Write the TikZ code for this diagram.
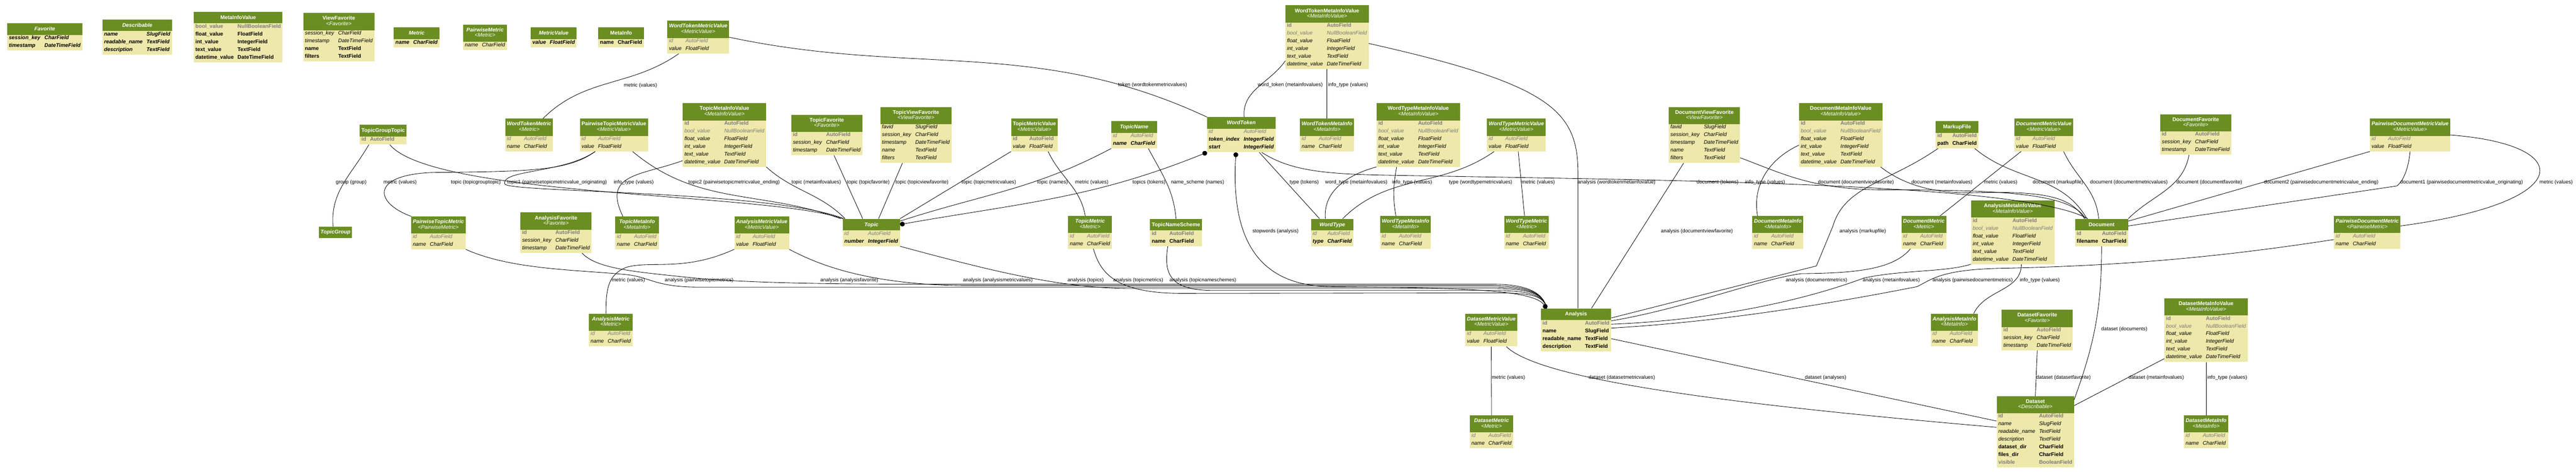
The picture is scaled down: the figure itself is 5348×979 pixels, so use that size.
\documentclass[tikz,border=0pt]{standalone}
\usepackage{fontspec}
\setmainfont{Liberation Sans}
\usetikzlibrary{shapes.multipart,arrows.meta}
\definecolor{headgreen}{RGB}{107,142,35}
\definecolor{bodykhaki}{RGB}{238,232,170}
\definecolor{fieldgray}{HTML}{7B7B7B}
\renewcommand{\arraystretch}{0}
% header cells
\newcommand\hd[1]{\textcolor{white}{\rule[-8.75pt]{0pt}{24pt}\textbf{#1}}}
\newcommand\hdi[1]{\textcolor{white}{\rule[-8.75pt]{0pt}{24pt}\textbf{\textit{#1}}}}
\newcommand\hds[2]{\textcolor{white}{\begin{tabular}{@{}c@{}}\rule[-3.3pt]{0pt}{17.6pt}\textbf{#1}\\\rule[-9.7pt]{0pt}{17.4pt}\textit{#2}\end{tabular}}}
\newcommand\hdsi[2]{\textcolor{white}{\begin{tabular}{@{}c@{}}\rule[-3.3pt]{0pt}{17.6pt}\textbf{\textit{#1}}\\\rule[-9.7pt]{0pt}{17.4pt}\textit{#2}\end{tabular}}}
% field rows
\newcommand\rows[1]{\begin{tabular}{@{}l@{\hspace{8pt}}l@{}}#1\end{tabular}}
\newcommand\rb[2]{\rule[-6.8pt]{0pt}{16pt}\textbf{#1}&\textbf{#2}\\}
\newcommand\rbi[2]{\rule[-6.8pt]{0pt}{16pt}\textbf{\textit{#1}}&\textbf{\textit{#2}}\\}
\newcommand\ri[2]{\rule[-6.8pt]{0pt}{16pt}\textit{#1}&\textit{#2}\\}
\newcommand\gb[2]{\rule[-6.8pt]{0pt}{16pt}\textcolor{fieldgray}{\textbf{#1}}&\textcolor{fieldgray}{\textbf{#2}}\\}
\newcommand\gi[2]{\rule[-6.8pt]{0pt}{16pt}\textcolor{fieldgray}{\textit{#1}}&\textcolor{fieldgray}{\textit{#2}}\\}
\newcommand\mivrows{\gb{id}{AutoField}\gi{bool\_value}{NullBooleanField}\ri{float\_value}{FloatField}\ri{int\_value}{IntegerField}\ri{text\_value}{TextField}\ri{datetime\_value}{DateTimeField}}
\newcommand\favrows{\gb{id}{AutoField}\ri{session\_key}{CharField}\ri{timestamp}{DateTimeField}}
\newcommand\vfavrows{\ri{favid}{SlugField}\ri{session\_key}{CharField}\ri{timestamp}{DateTimeField}\ri{name}{TextField}\ri{filters}{TextField}}
\newcommand\metrows{\gi{id}{AutoField}\ri{name}{CharField}}
\newcommand\valrows{\gi{id}{AutoField}\ri{value}{FloatField}}

\begin{document}
\begin{tikzpicture}[x=1pt,y=-1pt,
  model/.style={rectangle split, rectangle split parts=2,
    rectangle split part fill={headgreen,bodykhaki},
    rectangle split part align={center,left},
    inner xsep=3.5pt, inner ysep=0pt, anchor=north,
    font=\fontsize{11}{11}\selectfont},
  modelhead/.style={fill=headgreen, inner xsep=3.5pt, inner ysep=0pt,
    anchor=north, font=\fontsize{11}{11}\selectfont},
  fk/.style={draw, line width=0.9pt},
  mm/.style={fk, {Circle[length=10pt]}-{Circle[length=10pt]}},
  lbl/.style={anchor=west, inner sep=0pt, font=\fontsize{10.5}{10.5}\selectfont}]
\useasboundingbox (0,0) rectangle (5348,979);

% abstract bases
\node[model] (favorite) at (93,48) {\hdi{Favorite}\nodepart{two}\rows{\rbi{session\_key}{CharField}\rbi{timestamp}{DateTimeField}}};
\node[model] (describable) at (285,40) {\hdi{Describable}\nodepart{two}\rows{\rbi{name}{SlugField}\rbi{readable\_name}{TextField}\rbi{description}{TextField}}};
\node[model] (miv) at (494.5,24) {\hd{MetaInfoValue}\nodepart{two}\rows{\gb{bool\_value}{NullBooleanField}\rb{float\_value}{FloatField}\rb{int\_value}{IntegerField}\rb{text\_value}{TextField}\rb{datetime\_value}{DateTimeField}}};
\node[model] (vfav) at (703.5,27) {\hds{ViewFavorite}{<Favorite>}\nodepart{two}\rows{\ri{session\_key}{CharField}\ri{timestamp}{DateTimeField}\rb{name}{TextField}\rb{filters}{TextField}}};
\node[model] (metric) at (865,57) {\hdi{Metric}\nodepart{two}\rows{\rbi{name}{CharField}}};
\node[model] (pmetric) at (1007,51) {\hdsi{PairwiseMetric}{<Metric>}\nodepart{two}\rows{\ri{name}{CharField}}};
\node[model] (mvalue) at (1149.5,57) {\hdi{MetricValue}\nodepart{two}\rows{\rbi{value}{FloatField}}};
\node[model] (metainfo) at (1289.5,57) {\hd{MetaInfo}\nodepart{two}\rows{\rb{name}{CharField}}};

% topic side
\node[model] (wtmv) at (1449.5,43) {\hdsi{WordTokenMetricValue}{<MetricValue>}\nodepart{two}\rows{\valrows}};
\node[model] (tgt) at (795.5,259) {\hd{TopicGroupTopic}\nodepart{two}\rows{\gb{id}{AutoField}}};
\node[modelhead] (tgroup) at (696.5,470) {\hdi{TopicGroup}};
\node[model] (wtm) at (1098.5,246) {\hdsi{WordTokenMetric}{<Metric>}\nodepart{two}\rows{\metrows}};
\node[model] (ptmv) at (1274.5,246) {\hds{PairwiseTopicMetricValue}{<MetricValue>}\nodepart{two}\rows{\valrows}};
\node[model] (tmiv) at (1504,214) {\hds{TopicMetaInfoValue}{<MetaInfoValue>}\nodepart{two}\rows{\mivrows}};
\node[model] (tfav) at (1716.5,238) {\hds{TopicFavorite}{<Favorite>}\nodepart{two}\rows{\favrows}};
\node[model] (tvfav) at (1901.5,222) {\hds{TopicViewFavorite}{<ViewFavorite>}\nodepart{two}\rows{\vfavrows}};
\node[model] (ptm) at (910,449) {\hdsi{PairwiseTopicMetric}{<PairwiseMetric>}\nodepart{two}\rows{\metrows}};
\node[model] (afav) at (1154.5,441) {\hds{AnalysisFavorite}{<Favorite>}\nodepart{two}\rows{\favrows}};
\node[model] (tmi) at (1322.5,449) {\hdsi{TopicMetaInfo}{<MetaInfo>}\nodepart{two}\rows{\metrows}};
\node[model] (amv) at (1581.5,449) {\hdsi{AnalysisMetricValue}{<MetricValue>}\nodepart{two}\rows{\valrows}};
\node[model] (topic) at (1809,454) {\hdi{Topic}\nodepart{two}\rows{\gi{id}{AutoField}\rbi{number}{IntegerField}}};
\node[model] (ametric) at (1268,651) {\hdsi{AnalysisMetric}{<Metric>}\nodepart{two}\rows{\metrows}};
\node[model] (tmv) at (2147.5,246) {\hds{TopicMetricValue}{<MetricValue>}\nodepart{two}\rows{\gb{id}{AutoField}\ri{value}{FloatField}}};
\node[model] (tname) at (2354.5,251) {\hdi{TopicName}\nodepart{two}\rows{\gi{id}{AutoField}\rbi{name}{CharField}}};
\node[model] (tmetric) at (2263,448) {\hdsi{TopicMetric}{<Metric>}\nodepart{two}\rows{\metrows}};
\node[model] (tns) at (2441.5,454) {\hd{TopicNameScheme}\nodepart{two}\rows{\gb{id}{AutoField}\rb{name}{CharField}}};

% word side
\node[model] (wtoken) at (2577,243) {\hdi{WordToken}\nodepart{two}\rows{\gi{id}{AutoField}\rbi{token\_index}{IntegerField}\rbi{start}{IntegerField}}};
\node[model] (wtmiv) at (2755,11) {\hds{WordTokenMetaInfoValue}{<MetaInfoValue>}\nodepart{two}\rows{\mivrows}};
\node[model] (wtmi) at (2755,246) {\hdsi{WordTokenMetaInfo}{<MetaInfo>}\nodepart{two}\rows{\metrows}};
\node[model] (wtype) at (2766,454) {\hdi{WordType}\nodepart{two}\rows{\gi{id}{AutoField}\rbi{type}{CharField}}};
\node[model] (wtymiv) at (2944.5,214) {\hds{WordTypeMetaInfoValue}{<MetaInfoValue>}\nodepart{two}\rows{\mivrows}};
\node[model] (wtymv) at (3148,246) {\hdsi{WordTypeMetricValue}{<MetricValue>}\nodepart{two}\rows{\valrows}};
\node[model] (wtymi) at (2918,448) {\hdsi{WordTypeMetaInfo}{<MetaInfo>}\nodepart{two}\rows{\metrows}};
\node[model] (wtymetric) at (3169,448) {\hdsi{WordTypeMetric}{<Metric>}\nodepart{two}\rows{\metrows}};

% document side
\node[model] (dvfav) at (3538.5,222) {\hds{DocumentViewFavorite}{<ViewFavorite>}\nodepart{two}\rows{\vfavrows}};
\node[model] (dmiv) at (3821.5,214) {\hds{DocumentMetaInfoValue}{<MetaInfoValue>}\nodepart{two}\rows{\mivrows}};
\node[model] (markup) at (4063,251) {\hd{MarkupFile}\nodepart{two}\rows{\gb{id}{AutoField}\rb{path}{CharField}}};
\node[model] (dmv) at (4243,246) {\hdsi{DocumentMetricValue}{<MetricValue>}\nodepart{two}\rows{\valrows}};
\node[model] (dmi) at (3691,448) {\hdsi{DocumentMetaInfo}{<MetaInfo>}\nodepart{two}\rows{\metrows}};
\node[model] (dmetric) at (3994,448) {\hdsi{DocumentMetric}{<Metric>}\nodepart{two}\rows{\metrows}};
\node[model] (amiv) at (4178.5,416) {\hds{AnalysisMetaInfoValue}{<MetaInfoValue>}\nodepart{two}\rows{\mivrows}};
\node[model] (dfav) at (4558.5,237) {\hds{DocumentFavorite}{<Favorite>}\nodepart{two}\rows{\favrows}};
\node[model] (pdmv) at (5003.5,246) {\hdsi{PairwiseDocumentMetricValue}{<MetricValue>}\nodepart{two}\rows{\valrows}};
\node[model] (document) at (4363,454) {\hd{Document}\nodepart{two}\rows{\gb{id}{AutoField}\rb{filename}{CharField}}};
\node[model] (pdm) at (4914.5,448) {\hdsi{PairwiseDocumentMetric}{<PairwiseMetric>}\nodepart{two}\rows{\metrows}};

% analysis and dataset
\node[model] (analysis) at (3272,640) {\hd{Analysis}\nodepart{two}\rows{\gb{id}{AutoField}\rb{name}{SlugField}\rb{readable\_name}{TextField}\rb{description}{TextField}}};
\node[model] (dsmv) at (3096,651) {\hdsi{DatasetMetricValue}{<MetricValue>}\nodepart{two}\rows{\valrows}};
\node[model] (dsmetric) at (3096.5,862) {\hdsi{DatasetMetric}{<Metric>}\nodepart{two}\rows{\metrows}};
\node[model] (ami) at (4057.5,651) {\hdsi{AnalysisMetaInfo}{<MetaInfo>}\nodepart{two}\rows{\metrows}};
\node[model] (dsfav) at (4229.5,643) {\hds{DatasetFavorite}{<Favorite>}\nodepart{two}\rows{\favrows}};
\node[model] (dsmiv) at (4580,619) {\hds{DatasetMetaInfoValue}{<MetaInfoValue>}\nodepart{two}\rows{\mivrows}};
\node[model] (dataset) at (4225.5,822) {\hds{Dataset}{<Describable>}\nodepart{two}\rows{\gb{id}{AutoField}\ri{name}{SlugField}\ri{readable\_name}{TextField}\ri{description}{TextField}\rb{dataset\_dir}{CharField}\rb{files\_dir}{CharField}\gb{visible}{BooleanField}}};
\node[model] (dsmi) at (4580,862) {\hdsi{DatasetMetaInfo}{<MetaInfo>}\nodepart{two}\rows{\metrows}};

% relations, topic side
\draw[fk] ([xshift=24pt]wtmv.south west) to[out=-145,in=45] ([xshift=-21pt]wtm.north east);
\draw[fk] (wtmv.east) to[out=-12,in=155] (wtoken.north west);
\draw[fk] ([xshift=19pt]tgt.south west) to[out=-120,in=95] ([xshift=-5pt]tgroup.north);
\draw[fk] ([xshift=-35pt]tgt.south east) .. controls (900,410) and (1600,400) .. (topic.north west);
\draw[fk] ([xshift=32pt]ptmv.south west) .. controls (1180,355) and (1100,356) .. (900,358) .. controls (770,362) and (775,420) .. (ptm.north west);
\draw[fk] ([xshift=32pt]ptmv.south west) .. controls (1170,360) and (1040,352) .. (1048,382) .. controls (1058,400) and (1600,395) .. ([xshift=3pt]topic.north west);
\draw[fk] ([xshift=-32pt]ptmv.south east) to[out=-40,in=160] ([xshift=-4pt]topic.north west);
\draw[fk] ([yshift=13pt]tmiv.south west) .. controls (1330,365) and (1250,360) .. ([xshift=16pt]tmi.north west);
\draw[fk] (tmiv.south east) to[out=-42,in=135] ([xshift=5pt]topic.north west);
\draw[fk] ([xshift=15pt]tfav.south) -- ([xshift=-18pt]topic.north);
\draw[fk] ([xshift=-28pt]tvfav.south) -- ([xshift=15pt]topic.north);
\draw[fk] (tmv.south west) -- (topic.north east);
\draw[fk] ([xshift=-20pt]tmv.south east) to[out=-65,in=100] ([xshift=-10pt]tmetric.north);
\draw[fk] (tname.south west) to[out=-152,in=18] ([yshift=-5pt]topic.north east);
\draw[fk] ([xshift=-18pt]tname.south east) to[out=-62,in=95] (tns.north);
\draw[mm] ([yshift=-12pt]topic.north east) to[out=10,in=-158] (wtoken.south west);

% relations, word side
\draw[fk] ([yshift=17pt]wtmiv.south west) to[out=-125,in=95] ([xshift=6pt]wtoken.north);
\draw[fk] (wtmiv.south) -- (wtmi.north);
\draw[fk] ([yshift=-13pt]wtmiv.east) .. controls (3220,175) and (3276,230) .. (3276,360) -- ([xshift=4pt]analysis.north);
\draw[fk] ([xshift=-34pt]wtoken.south east) -- ([xshift=18pt]wtype.north west);
\draw[fk] ([xshift=-29pt]wtoken.south east) .. controls (2680,355) and (2750,362) .. (2900,364) .. controls (3500,375) and (4200,380) .. ([xshift=27pt]document.north west);
\draw[mm] ([xshift=-11pt]wtoken.south) .. controls (2556,480) and (2600,592) .. (2760,595) .. controls (3000,598) and (3180,598) .. ([xshift=12pt]analysis.north west);
\draw[fk] (wtymiv.south west) to[out=-165,in=95] ([xshift=30pt]wtype.north west);
\draw[fk] ([xshift=-45pt]wtymiv.south) to[out=-100,in=100] ([xshift=-20pt]wtymi.north);
\draw[fk] ([xshift=15pt]wtymv.south west) to[out=-145,in=45] ([xshift=-23pt]wtype.north east);
\draw[fk] ([xshift=4pt]wtymv.south) -- ([xshift=-4pt]wtymetric.north);

% relations, document side
\draw[fk] ([yshift=11pt]dvfav.south east) .. controls (3700,360) and (3760,392) .. (3900,394) .. controls (4150,394) and (4300,400) .. ([xshift=22pt]document.north west);
\draw[fk] ([xshift=31pt]dvfav.south west) -- ([xshift=32pt]analysis.north);
\draw[fk] ([yshift=-21pt]dmiv.west) to[out=-155,in=100] ([xshift=11pt]dmi.north west);
\draw[fk] ([xshift=-4pt]dmiv.south east) .. controls (3960,390) and (4030,402) .. (4100,400) .. controls (4250,396) and (4300,410) .. ([xshift=20pt]document.north west);
\draw[fk] ([xshift=-8pt]markup.south east) to[out=-40,in=120] ([xshift=25pt]document.north west);
\draw[fk] ([xshift=5pt]markup.south west) .. controls (3920,380) and (3830,385) .. (3805,470) -- (3771,552) -- ([yshift=-20pt]analysis.north east);
\draw[fk] ([xshift=14pt]dmv.south west) -- ([xshift=-13pt]dmetric.north east);
\draw[fk] ([xshift=-20pt]dmv.south east) to[out=-65,in=95] ([xshift=-6pt]document.north);
\draw[fk] ([xshift=-14pt]dfav.south) to[out=-100,in=45] (document.north east);
\draw[fk] (pdmv.south west) -- ([yshift=-5pt]document.north east);
\draw[fk] (pdmv.south) .. controls (5000,350) and (4990,375) .. (4976,386) -- ([yshift=-15pt]document.north east);
\draw[fk] (pdmv.east) .. controls (5350,300) and (5350,420) .. ([yshift=-21pt]pdm.north east);
\draw[fk] ([yshift=-15pt]pdm.west) .. controls (4600,535) and (4400,552) .. (4150,557) .. controls (4030,560) and (4010,580) .. (3980,595) .. controls (3700,650) and (3500,672) .. ([yshift=-41pt]analysis.north east);
\draw[fk] ([xshift=19pt]dmetric.south west) .. controls (3930,560) and (3850,567) .. (3740,568) .. controls (3650,580) and (3500,640) .. ([yshift=-26pt]analysis.north east);
\draw[fk] (amiv.south west) .. controls (4040,565) and (3950,560) .. (3870,577) .. controls (3700,640) and (3500,667) .. ([yshift=-33pt]analysis.north east);
\draw[fk] ([xshift=18pt]amiv.south) to[out=-90,in=65] ([xshift=40pt]ami.north);

% relations, dataset
\draw[fk] (document.south) to[out=-90,in=70] ([yshift=-8pt]dataset.north east);
\draw[fk] (dsfav.south) -- (dataset.north);
\draw[fk] ([yshift=7pt]dsmiv.south west) -- ([yshift=-20pt]dataset.north east);
\draw[fk] (dsmiv.south) -- (dsmi.north);
\draw[fk] (dsmv.south) -- (dsmetric.north);
\draw[fk] ([xshift=-23pt]dsmv.south east) .. controls (3200,790) and (3600,840) .. ([yshift=-65pt]dataset.north west);
\draw[fk] ([yshift=-63pt]analysis.north east) -- ([yshift=-52pt]dataset.north west);

% relations into analysis from the left
\draw[fk] ([xshift=-20pt]afav.south east) .. controls (1240,560) and (1330,565) .. (1450,578) .. controls (1600,590) and (1800,590) .. (2000,590) -- (3100,590) .. controls (3175,590) and (3205,610) .. ([xshift=12pt]analysis.north west);
\draw[fk] (amv.south east) .. controls (1700,550) and (1800,590) .. (2000,593) -- (3100,593) .. controls (3175,593) and (3205,610) .. ([xshift=12pt]analysis.north west);
\draw[fk] (amv.south west) .. controls (1420,565) and (1350,540) .. (1300,555) .. controls (1262,570) and (1258,600) .. ([xshift=-10pt]ametric.north);
\draw[fk] (ptm.south east) .. controls (1060,560) and (1200,560) .. (1300,570) .. controls (1350,575) and (1360,596) .. (1450,596) -- (3100,596) .. controls (3175,596) and (3205,610) .. ([xshift=12pt]analysis.north west);
\draw[fk] (topic.south east) .. controls (2050,560) and (2200,599) .. (2350,599) -- (3100,599) .. controls (3175,599) and (3205,610) .. ([xshift=12pt]analysis.north west);
\draw[fk] ([xshift=7pt]tmetric.south) .. controls (2285,570) and (2320,608) .. (2450,609) -- (3100,608) .. controls (3175,608) and (3205,612) .. ([xshift=12pt]analysis.north west);
\draw[fk] ([xshift=-17pt]tns.south) .. controls (2415,570) and (2430,603) .. (2520,603) -- (3100,603) .. controls (3175,603) and (3205,612) .. ([xshift=12pt]analysis.north west);

% labels
\node[lbl] (l1) at (1295,177) {metric (values)};
\node[lbl] (l2) at (2321,176) {token (wordtokenmetricvalues)};
\node[lbl] (l3) at (2611,176) {word\_token (metainfovalues)};
\node[lbl] (l4) at (2757,176) {info\_type (values)};
\node[lbl] (l5) at (697,379) {group (group)};
\node[lbl] (l6) at (796,379) {metric (values)};
\node[lbl] (l7) at (936,379) {topic (topicgrouptopic)};
\node[lbl] (l8) at (1053,379) {topic1 (pairwisetopicmetricvalue\_originating)};
\node[lbl] (l9) at (1274,379) {info\_type (values)};
\node[lbl] (l10) at (1429,379) {topic2 (pairwisetopicmetricvalue\_ending)};
\node[lbl] (l11) at (1643,379) {topic (metainfovalues)};
\node[lbl] (l12) at (1758,379) {topic (topicfavorite)};
\node[lbl] (l13) at (1859,379) {topic (topicviewfavorite)};
\node[lbl] (l14) at (1996,379) {topic (topicmetricvalues)};
\node[lbl] (l15) at (2153,379) {topic (names)};
\node[lbl] (l16) at (2232,379) {metric (values)};
\node[lbl] (l17) at (2351,379) {topics (tokens)};
\node[lbl] (l18) at (2431,379) {name\_scheme (names)};
\node[lbl] (l19) at (2677,379) {type (tokens)};
\node[lbl] (l20) at (2751,379) {word\_type (metainfovalues)};
\node[lbl] (l21) at (2890,379) {info\_type (values)};
\node[lbl] (l22) at (3008,379) {type (wordtypemetricvalues)};
\node[lbl] (l23) at (3159,379) {metric (values)};
\node[lbl] (l24) at (3275,379) {analysis (wordtokenmetainfovalue)};
\node[lbl] (l25) at (3522,379) {document (tokens)};
\node[lbl] (l26) at (3623,379) {info\_type (values)};
\node[lbl] (l27) at (3774,379) {document (documentviewfavorite)};
\node[lbl] (l28) at (3968,379) {document (metainfovalues)};
\node[lbl] (l29) at (4119,379) {metric (values)};
\node[lbl] (l30) at (4220,379) {document (markupfile)};
\node[lbl] (l31) at (4339,379) {document (documentmetricvalues)};
\node[lbl] (l32) at (4518,379) {document (documentfavorite)};
\node[lbl] (l33) at (4700,379) {document2 (pairwisedocumentmetricvalue\_ending)};
\node[lbl] (l34) at (4983,379) {document1 (pairwisedocumentmetricvalue\_originating)};
\node[lbl] (l35) at (5272,379) {metric (values)};
\node[lbl] (l36) at (2600,480) {stopwords (analysis)};
\node[lbl] (l37) at (3448,480) {analysis (documentviewfavorite)};
\node[lbl] (l38) at (3819,480) {analysis (markupfile)};
\node[lbl] (l39) at (1270,582) {metric (values)};
\node[lbl] (l40) at (1380,582) {analysis (pairwisetopicmetrics)};
\node[lbl] (l41) at (1703,582) {analysis (analysisfavorite)};
\node[lbl] (l42) at (1999,582) {analysis (analysismetricvalues)};
\node[lbl] (l43) at (2216,582) {analysis (topics)};
\node[lbl] (l44) at (2311,582) {analysis (topicmetrics)};
\node[lbl] (l45) at (2428,582) {analysis (topicnameschemes)};
\node[lbl] (l46) at (3707,582) {analysis (documentmetrics)};
\node[lbl] (l47) at (3867,582) {analysis (metainfovalues)};
\node[lbl] (l48) at (4012,582) {analysis (pairwisedocumentmetrics)};
\node[lbl] (l49) at (4193,582) {info\_type (values)};
\node[lbl] (l50) at (4362,683) {dataset (documents)};
\node[lbl] (l51) at (3097,784) {metric (values)};
\node[lbl] (l52) at (3298,784) {dataset (datasetmetricvalues)};
\node[lbl] (l53) at (3747,784) {dataset (analyses)};
\node[lbl] (l54) at (4227,784) {dataset (datasetfavorite)};
\node[lbl] (l55) at (4419,784) {dataset (metainfovalues)};
\node[lbl] (l56) at (4582,784) {info\_type (values)};
\end{tikzpicture}
\end{document}
